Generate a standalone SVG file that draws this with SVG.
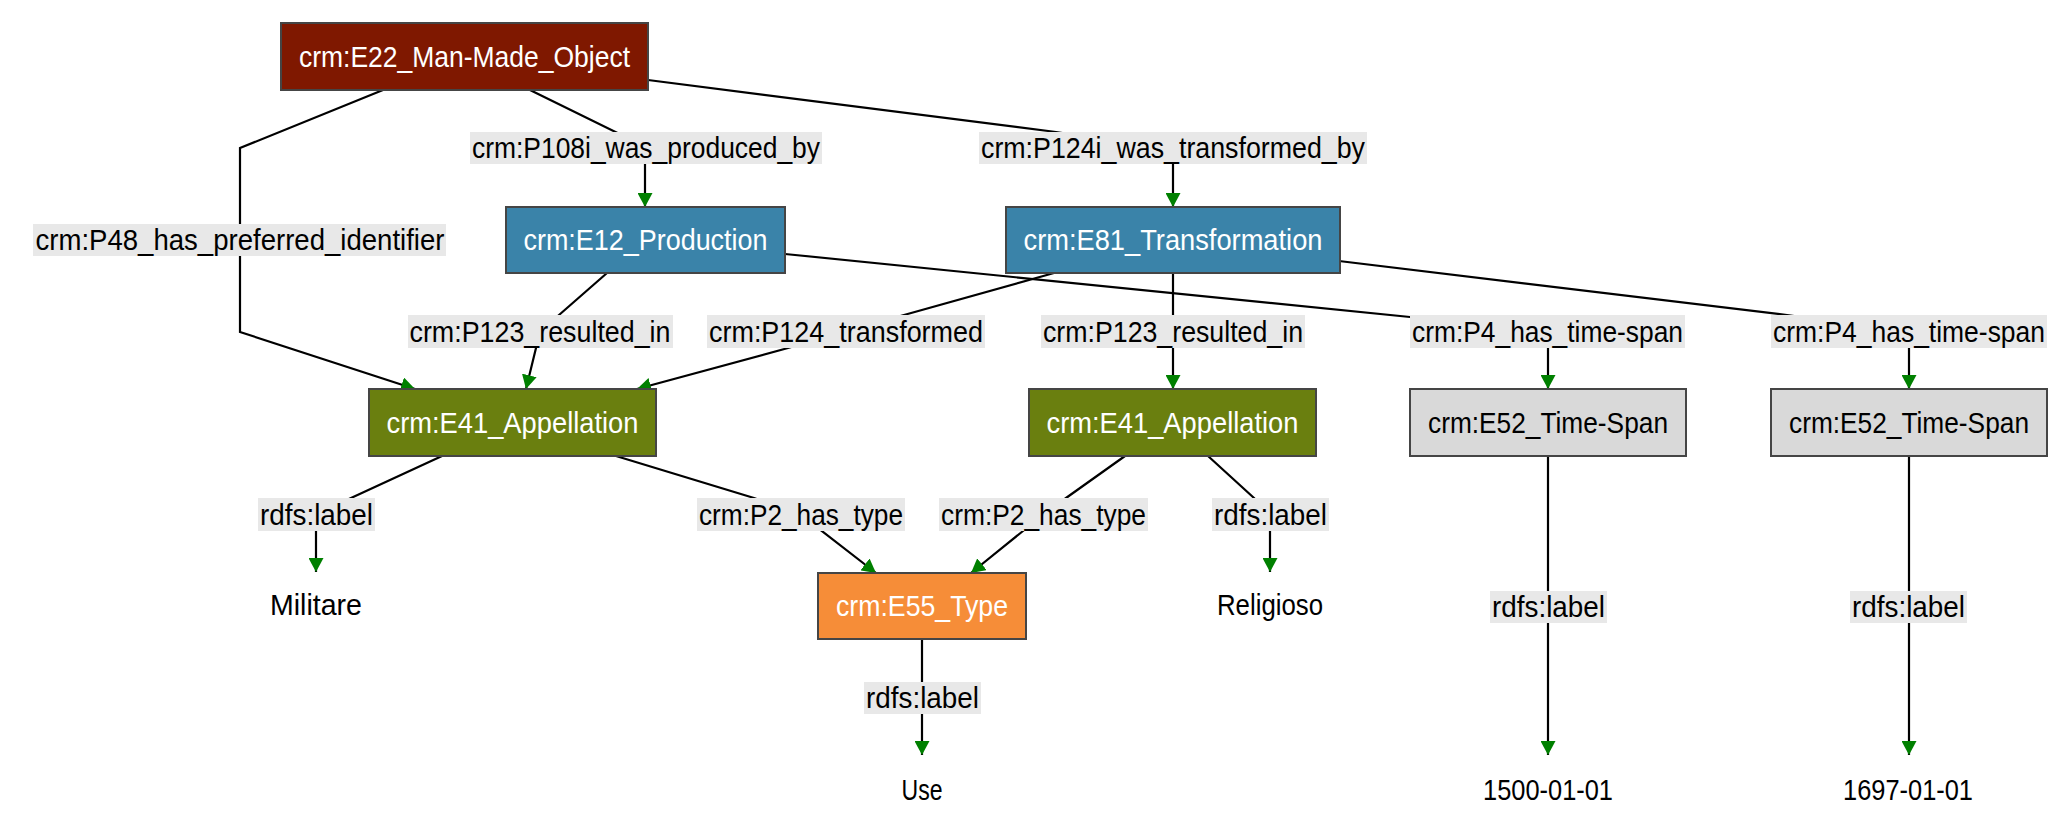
<svg xmlns="http://www.w3.org/2000/svg" width="2072" height="830" viewBox="0 0 2072 830">
<style>
  .node rect { stroke: #454545; stroke-width: 2; }
  .t { font-family: "Liberation Sans", Arial, sans-serif; font-size: 29px; text-anchor: middle; dominant-baseline: central; }
  .w { fill: #ffffff; }
  .k { fill: #000000; }
  .edge { fill: none; stroke: #000000; stroke-width: 2.2; }
  .lbl { fill: #e8e8e8; }
  .e22 { fill: #7f1800; }
  .blue { fill: #3a83a9; }
  .olive { fill: #6a7f0f; }
  .orange { fill: #f68d38; }
  .grey { fill: #d9d9d9; }
</style>
<defs>
  <marker id="arr" markerUnits="userSpaceOnUse" markerWidth="14" markerHeight="15" viewBox="0 0 14 15" refX="14" refY="7.5" orient="auto">
    <path d="M0,0 L14,7.5 L0,15 z" fill="#008000"/>
  </marker>
</defs>
<rect x="0" y="0" width="2072" height="830" fill="#ffffff"/>

<g id="connectors">
  <path class="edge" d="M383,90 L240,148 L240,332 L415,389" marker-end="url(#arr)"/>
  <path class="edge" d="M530,90 L640,144 L645,160 L645,207" marker-end="url(#arr)"/>
  <path class="edge" d="M648,80 L1056,132 L1173,150 L1173,207" marker-end="url(#arr)"/>
  <path class="edge" d="M607,273 L559,315 L540,331 L536,348 L526,389" marker-end="url(#arr)"/>
  <path class="edge" d="M1054,273 L904,315 L846,331 L788,348 L637,389" marker-end="url(#arr)"/>
  <path class="edge" d="M1173,273 L1173,389" marker-end="url(#arr)"/>
  <path class="edge" d="M785,254 L1410,317 L1548,332 L1548,389" marker-end="url(#arr)"/>
  <path class="edge" d="M1339,261 L1787,315 L1909,332 L1909,389" marker-end="url(#arr)"/>
  <path class="edge" d="M442,456 L351,498 L316,515 L316,572" marker-end="url(#arr)"/>
  <path class="edge" d="M616,456 L754,498 L801,515 L822,531 L876,573" marker-end="url(#arr)"/>
  <path class="edge" d="M1125,456 L1066,498 L1043,515 L1023,531 L971,573" marker-end="url(#arr)"/>
  <path class="edge" d="M1208,456 L1254,498 L1270,515 L1270,572" marker-end="url(#arr)"/>
  <path class="edge" d="M922,639 L922,755" marker-end="url(#arr)"/>
  <path class="edge" d="M1548,456 L1548,755" marker-end="url(#arr)"/>
  <path class="edge" d="M1909,456 L1909,755" marker-end="url(#arr)"/>

  <g id="edge-labels">
    <rect class="lbl" x="33" y="224" width="413" height="32"/>
    <text class="t k" x="240" y="240" textLength="409" lengthAdjust="spacingAndGlyphs">crm:P48_has_preferred_identifier</text>
    <rect class="lbl" x="470" y="132" width="352" height="32"/>
    <text class="t k" x="646" y="148" textLength="348" lengthAdjust="spacingAndGlyphs">crm:P108i_was_produced_by</text>
    <rect class="lbl" x="979" y="132" width="388" height="32"/>
    <text class="t k" x="1173" y="148" textLength="384" lengthAdjust="spacingAndGlyphs">crm:P124i_was_transformed_by</text>
    <rect class="lbl" x="408" y="315" width="265" height="33"/>
    <text class="t k" x="540" y="331.5" textLength="261" lengthAdjust="spacingAndGlyphs">crm:P123_resulted_in</text>
    <rect class="lbl" x="707" y="315" width="278" height="33"/>
    <text class="t k" x="846" y="331.5" textLength="274" lengthAdjust="spacingAndGlyphs">crm:P124_transformed</text>
    <rect class="lbl" x="1041" y="315" width="264" height="33"/>
    <text class="t k" x="1173" y="331.5" textLength="260" lengthAdjust="spacingAndGlyphs">crm:P123_resulted_in</text>
    <rect class="lbl" x="1410" y="315" width="275" height="33"/>
    <text class="t k" x="1547.5" y="331.5" textLength="271" lengthAdjust="spacingAndGlyphs">crm:P4_has_time-span</text>
    <rect class="lbl" x="1771" y="315" width="276" height="33"/>
    <text class="t k" x="1909" y="331.5" textLength="272" lengthAdjust="spacingAndGlyphs">crm:P4_has_time-span</text>
    <rect class="lbl" x="258" y="498" width="117" height="33"/>
    <text class="t k" x="316.5" y="514.5" textLength="113" lengthAdjust="spacingAndGlyphs">rdfs:label</text>
    <rect class="lbl" x="697" y="498" width="208" height="33"/>
    <text class="t k" x="801" y="514.5" textLength="204" lengthAdjust="spacingAndGlyphs">crm:P2_has_type</text>
    <rect class="lbl" x="939" y="498" width="209" height="33"/>
    <text class="t k" x="1043.5" y="514.5" textLength="205" lengthAdjust="spacingAndGlyphs">crm:P2_has_type</text>
    <rect class="lbl" x="1212" y="498" width="117" height="33"/>
    <text class="t k" x="1270.5" y="514.5" textLength="113" lengthAdjust="spacingAndGlyphs">rdfs:label</text>
    <rect class="lbl" x="864" y="682" width="117" height="32"/>
    <text class="t k" x="922.5" y="698" textLength="113" lengthAdjust="spacingAndGlyphs">rdfs:label</text>
    <rect class="lbl" x="1490" y="591" width="117" height="32"/>
    <text class="t k" x="1548.5" y="607" textLength="113" lengthAdjust="spacingAndGlyphs">rdfs:label</text>
    <rect class="lbl" x="1850" y="591" width="117" height="32"/>
    <text class="t k" x="1908.5" y="607" textLength="113" lengthAdjust="spacingAndGlyphs">rdfs:label</text>
  </g>
</g>

<g id="n-e22" class="node">
  <rect class="e22" x="281" y="23" width="367" height="67"/>
  <text class="t w" x="464.5" y="56.5" textLength="331" lengthAdjust="spacingAndGlyphs">crm:E22_Man-Made_Object</text>
</g>
<g id="n-e12" class="node">
  <rect class="blue" x="506" y="207" width="279" height="66"/>
  <text class="t w" x="645.5" y="240" textLength="244" lengthAdjust="spacingAndGlyphs">crm:E12_Production</text>
</g>
<g id="n-e81" class="node">
  <rect class="blue" x="1006" y="207" width="334" height="66"/>
  <text class="t w" x="1173" y="240" textLength="299" lengthAdjust="spacingAndGlyphs">crm:E81_Transformation</text>
</g>
<g id="n-e41a" class="node">
  <rect class="olive" x="369" y="389" width="287" height="67"/>
  <text class="t w" x="512.5" y="422.5" textLength="252" lengthAdjust="spacingAndGlyphs">crm:E41_Appellation</text>
</g>
<g id="n-e41b" class="node">
  <rect class="olive" x="1029" y="389" width="287" height="67"/>
  <text class="t w" x="1172.5" y="422.5" textLength="252" lengthAdjust="spacingAndGlyphs">crm:E41_Appellation</text>
</g>
<g id="n-e52a" class="node">
  <rect class="grey" x="1410" y="389" width="276" height="67"/>
  <text class="t k" x="1548" y="422.5" textLength="240" lengthAdjust="spacingAndGlyphs">crm:E52_Time-Span</text>
</g>
<g id="n-e52b" class="node">
  <rect class="grey" x="1771" y="389" width="276" height="67"/>
  <text class="t k" x="1909" y="422.5" textLength="240" lengthAdjust="spacingAndGlyphs">crm:E52_Time-Span</text>
</g>
<g id="n-e55" class="node">
  <rect class="orange" x="818" y="573" width="208" height="66"/>
  <text class="t w" x="922" y="606" textLength="172" lengthAdjust="spacingAndGlyphs">crm:E55_Type</text>
</g>
<g id="n-militare">
  <text class="t k" x="316" y="605" textLength="92" lengthAdjust="spacingAndGlyphs">Militare</text>
</g>
<g id="n-religioso">
  <text class="t k" x="1270" y="605" textLength="106" lengthAdjust="spacingAndGlyphs">Religioso</text>
</g>
<g id="n-use">
  <text class="t k" x="922" y="790" textLength="41" lengthAdjust="spacingAndGlyphs">Use</text>
</g>
<g id="n-1500">
  <text class="t k" x="1548" y="790" textLength="130" lengthAdjust="spacingAndGlyphs">1500-01-01</text>
</g>
<g id="n-1697">
  <text class="t k" x="1908" y="790" textLength="130" lengthAdjust="spacingAndGlyphs">1697-01-01</text>
</g>
</svg>
